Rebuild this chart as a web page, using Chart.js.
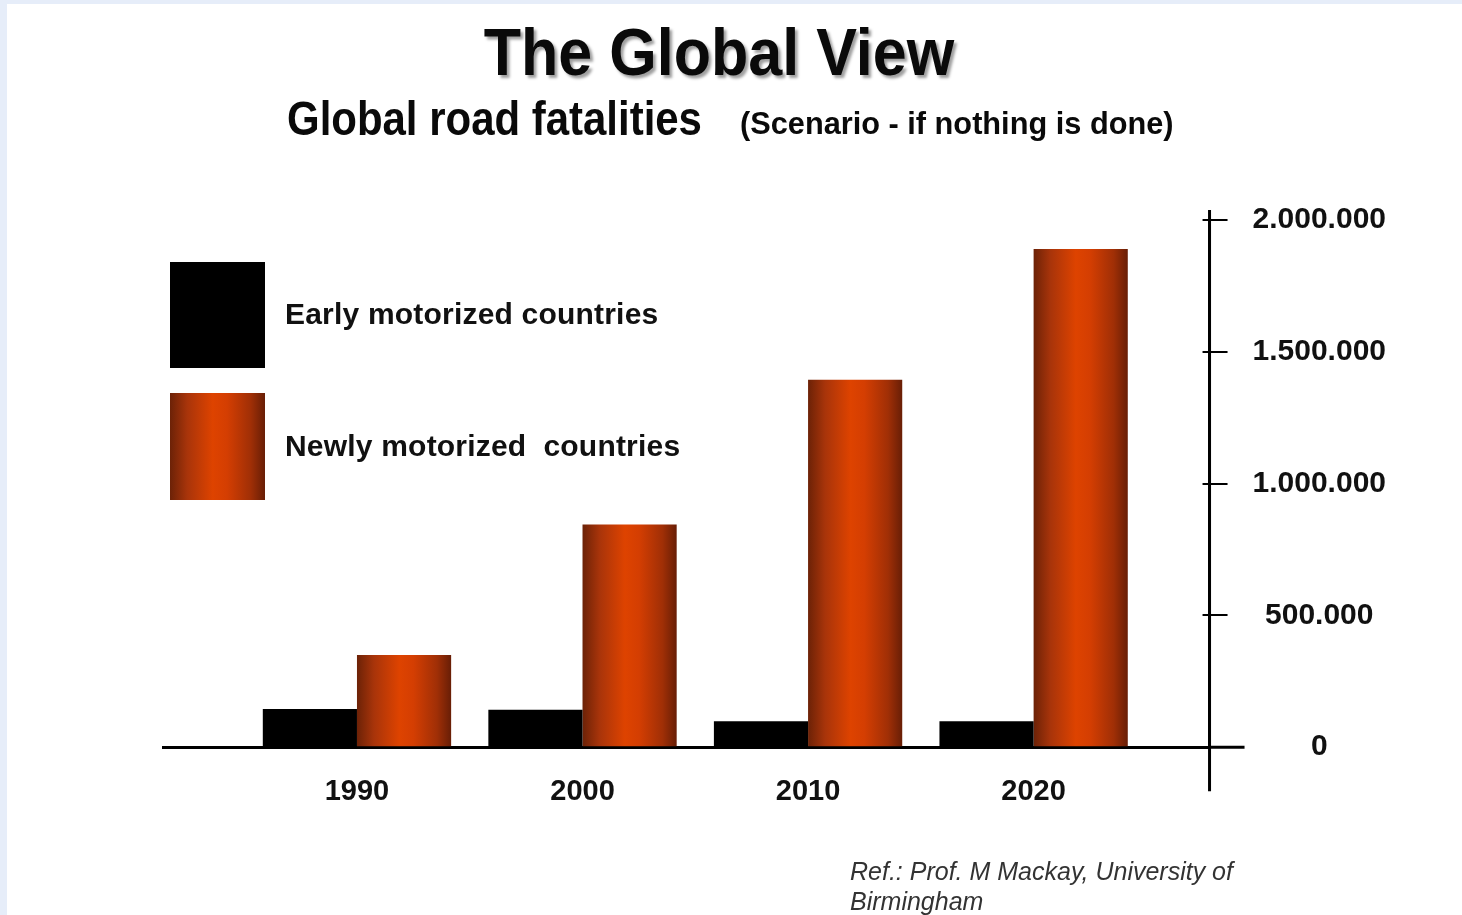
<!DOCTYPE html>
<html>
<head>
<meta charset="utf-8">
<script src="https://cdn.jsdelivr.net/npm/chart.js@4.4.1/dist/chart.umd.min.js"></script>
<style>
  html, body { margin: 0; padding: 0; background: #ffffff; }
  #page { position: relative; width: 1462px; height: 915px; overflow: hidden; background: #ffffff;
          font-family: "Liberation Sans", Arial, Helvetica, sans-serif; }
  #edgeL { position: absolute; left: 0; top: 0; width: 7px; height: 915px; background: #e6edf9; }
  #edgeT { position: absolute; left: 0; top: 0; width: 1462px; height: 4px; background: #e6edf9; }
  #chart { position: absolute; left: 0; top: 0; }
  .txt { position: absolute; white-space: pre; line-height: 1; color: #0a0a0a; }
  #title { left: 719px; top: 19px; font-size: 66px; font-weight: bold; transform: translateX(-50%) scaleX(0.925);
           text-shadow: 3px 3px 3px rgba(0,0,0,0.38); }
  #sub1 { left: 287px; top: 95px; font-size: 48px; font-weight: bold; transform-origin: 0 0; transform: scaleX(0.874); }
  #sub2 { left: 740px; top: 107px; font-size: 32px; font-weight: bold; transform-origin: 0 0; transform: scaleX(0.96); }
  .legBox { position: absolute; left: 170px; width: 95px; }
  .legTxt { position: absolute; left: 285px; font-size: 30px; font-weight: bold; letter-spacing: 0.2px; white-space: pre; line-height: 1; color: #111; }
  #ref { left: 850px; top: 856px; font-size: 25px; font-style: italic; color: #333; line-height: 30px; }
</style>
</head>
<body>
<div id="page">
  <div id="edgeL"></div><div id="edgeT"></div>
  <canvas id="chart" width="1462" height="915"></canvas>
  <div class="txt" id="title">The Global View</div>
  <div class="txt" id="sub1">Global road fatalities</div>
  <div class="txt" id="sub2">(Scenario - if nothing is done)</div>
  <div id="legend"></div>
  <div class="txt" id="ref">Ref.: Prof. M Mackay, University of
Birmingham</div>
</div>
<script>
// ---- data ----
const years = [1990, 2000, 2010, 2020];
const yearLabels = ['1990', '2000', '2010', '2020'];
const earlyMotorized = [145000, 142000, 98000, 98000];
const newlyMotorized = [350000, 845000, 1394000, 1890000];
const seriesNames = ['Early motorized countries', 'Newly motorized  countries'];
const yTickValues = [0, 500000, 1000000, 1500000, 2000000];
const yTickLabels = ['0', '500.000', '1.000.000', '1.500.000', '2.000.000'];

// ---- styles ----
const FONT = '"Liberation Sans", Arial, Helvetica, sans-serif';
const orangeStops = [[0, '#6c2207'], [0.18, '#a8340a'], [0.45, '#de4300'], [0.6, '#d43e02'], [0.85, '#a02f06'], [1, '#681e06']];

// HTML legend built from the series names
(function () {
  const leg = document.getElementById('legend');
  const grad = 'linear-gradient(to right,' + orangeStops.map(s => s[1] + ' ' + (s[0] * 100) + '%').join(',') + ')';
  const boxes = [{ top: 262, h: 106, bg: '#000000', t: 299 }, { top: 393, h: 107, bg: grad, t: 431 }];
  boxes.forEach((b, i) => {
    const d = document.createElement('div');
    d.className = 'legBox';
    d.style.top = b.top + 'px'; d.style.height = b.h + 'px'; d.style.background = b.bg;
    leg.appendChild(d);
    const t = document.createElement('div');
    t.className = 'legTxt';
    t.style.top = b.t + 'px';
    t.textContent = seriesNames[i];
    leg.appendChild(t);
  });
})();

function orangeFill(ctx) {
  const chart = ctx.chart;
  const meta = chart.getDatasetMeta(ctx.datasetIndex);
  const el = meta && meta.data ? meta.data[ctx.dataIndex] : null;
  if (!el || el.x == null || !isFinite(el.x) || !isFinite(el.width)) return '#c83c03';
  const g = chart.ctx.createLinearGradient(el.x - el.width / 2, 0, el.x + el.width / 2, 0);
  orangeStops.forEach(s => g.addColorStop(s[0], s[1]));
  return g;
}

const axisExtras = {
  id: 'axisExtras',
  afterDraw(chart) {
    const c = chart.ctx, y = chart.scales.y, a = chart.chartArea;
    const ax = y.left;
    c.save();
    c.strokeStyle = '#000';
    c.lineWidth = 3;
    c.beginPath();
    c.moveTo(ax, y.getPixelForValue(yTickValues[yTickValues.length - 1]) - 10);
    c.lineTo(ax, a.bottom + 44);
    c.stroke();
    c.lineWidth = 2;
    y.ticks.forEach(t => {
      if (t.value === 0) return;
      const py = Math.round(y.getPixelForValue(t.value));
      c.beginPath(); c.moveTo(ax - 7, py); c.lineTo(ax, py); c.stroke();
    });
    c.lineWidth = 3;
    const p0 = y.getPixelForValue(0);
    c.beginPath(); c.moveTo(a.right, p0); c.lineTo(a.right + 35, p0); c.stroke();
    c.restore();
  }
};

const chart = new Chart(document.getElementById('chart'), {
  type: 'bar',
  data: {
    datasets: [
      { label: seriesNames[0], data: years.map((x, i) => ({ x, y: earlyMotorized[i] })), backgroundColor: '#000000', borderWidth: 0 },
      { label: seriesNames[1], data: years.map((x, i) => ({ x, y: newlyMotorized[i] })), backgroundColor: orangeFill, borderWidth: 0 }
    ]
  },
  options: {
    responsive: false,
    animation: false,
    events: [],
    categoryPercentage: 0.835,
    barPercentage: 1.0,
    layout: { padding: { left: 163, right: 51, top: 220, bottom: 79 } },
    plugins: { legend: { display: false }, title: { display: false }, tooltip: { enabled: false } },
    scales: {
      x: {
        type: 'linear',
        offset: false,
        min: 1981.4,
        max: 2027.8,
        afterBuildTicks: s => { s.ticks = years.map(v => ({ value: v })); },
        grid: { display: true, drawOnChartArea: false, drawTicks: false },
        border: { display: true, color: '#000', width: 3 },
        ticks: {
          padding: 27,
          color: '#111',
          font: { family: FONT, size: 29, weight: 'bold' },
          callback: v => yearLabels[years.indexOf(v)] ?? ''
        }
      },
      y: {
        position: 'right',
        min: 0,
        max: 2000000,
        afterBuildTicks: s => { s.ticks = yTickValues.map(v => ({ value: v })); },
        grid: { drawOnChartArea: false, drawTicks: true, tickLength: 18, color: '#000', lineWidth: 2 },
        border: { display: true, color: '#000', width: 3 },
        ticks: {
          padding: 25,
          crossAlign: 'center',
          color: '#111',
          font: { family: FONT, size: 30, weight: 'bold' },
          callback: v => yTickLabels[yTickValues.indexOf(v)] ?? ''
        }
      }
    }
  },
  plugins: [axisExtras]
});
chart.update();
</script>
</body>
</html>
